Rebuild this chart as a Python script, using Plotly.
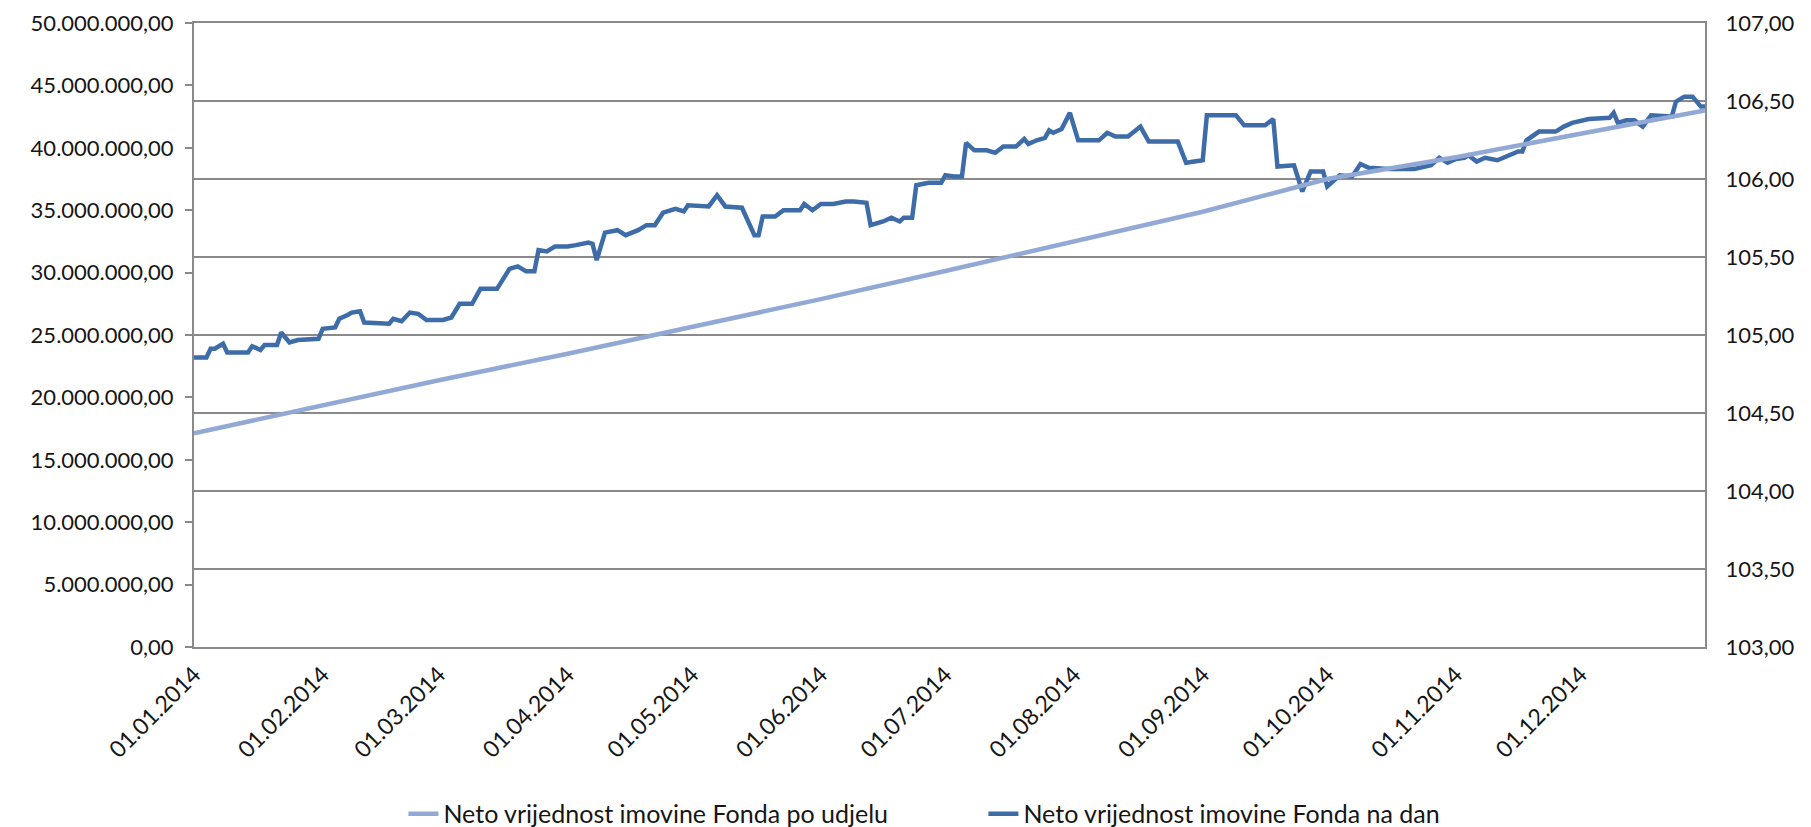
import plotly.graph_objects as go

# ---- data -----------------------------------------------------------------
unit_dates = ["2014-01-01", "2014-02-01", "2014-03-01", "2014-04-01", "2014-05-01",
              "2014-06-01", "2014-07-01", "2014-08-01", "2014-09-01", "2014-10-01",
              "2014-11-01", "2014-12-01", "2014-12-31"]
unit_values = [104.37, 104.55, 104.71, 104.88, 105.05, 105.23, 105.41, 105.60,
               105.79, 106.00, 106.14, 106.29, 106.44]

nav_dates = [
    "2014-01-01", "2014-01-04", "2014-01-05", "2014-01-06", "2014-01-08", "2014-01-09",
    "2014-01-14", "2014-01-15", "2014-01-17", "2014-01-18", "2014-01-21", "2014-01-22",
    "2014-01-24", "2014-01-26", "2014-01-31", "2014-02-01", "2014-02-04", "2014-02-05",
    "2014-02-07", "2014-02-08", "2014-02-10", "2014-02-11", "2014-02-17", "2014-02-18",
    "2014-02-20", "2014-02-22", "2014-02-24", "2014-02-26", "2014-03-02", "2014-03-04",
    "2014-03-06", "2014-03-09", "2014-03-11", "2014-03-15", "2014-03-18", "2014-03-20",
    "2014-03-22", "2014-03-24", "2014-03-25", "2014-03-27", "2014-03-29", "2014-04-01",
    "2014-04-03", "2014-04-06", "2014-04-07", "2014-04-08", "2014-04-10", "2014-04-13",
    "2014-04-15", "2014-04-18", "2014-04-20", "2014-04-22", "2014-04-24", "2014-04-27",
    "2014-04-29", "2014-04-30", "2014-05-05", "2014-05-07", "2014-05-09", "2014-05-13",
    "2014-05-16", "2014-05-17", "2014-05-18", "2014-05-21", "2014-05-23", "2014-05-27",
    "2014-05-28", "2014-05-30", "2014-06-01", "2014-06-04", "2014-06-07", "2014-06-09",
    "2014-06-12", "2014-06-13", "2014-06-16", "2014-06-18", "2014-06-20", "2014-06-21",
    "2014-06-23", "2014-06-24", "2014-06-27", "2014-06-30", "2014-07-01", "2014-07-03",
    "2014-07-05", "2014-07-06", "2014-07-08", "2014-07-11", "2014-07-13", "2014-07-15",
    "2014-07-18", "2014-07-20", "2014-07-21", "2014-07-23", "2014-07-25", "2014-07-26",
    "2014-07-27", "2014-07-28", "2014-07-29", "2014-07-31", "2014-08-02", "2014-08-07",
    "2014-08-09", "2014-08-11", "2014-08-14", "2014-08-17", "2014-08-19", "2014-08-26",
    "2014-08-28", "2014-09-01", "2014-09-02", "2014-09-09", "2014-09-11", "2014-09-16",
    "2014-09-18", "2014-09-19", "2014-09-23", "2014-09-25", "2014-09-27", "2014-09-30",
    "2014-10-01", "2014-10-04", "2014-10-07", "2014-10-09", "2014-10-11", "2014-10-16",
    "2014-10-22", "2014-10-26", "2014-10-28", "2014-10-30", "2014-11-01", "2014-11-03",
    "2014-11-04", "2014-11-06", "2014-11-08", "2014-11-11", "2014-11-14", "2014-11-16",
    "2014-11-17", "2014-11-18", "2014-11-21", "2014-11-25", "2014-11-27", "2014-11-29",
    "2014-12-03", "2014-12-08", "2014-12-09", "2014-12-10", "2014-12-12", "2014-12-14",
    "2014-12-16", "2014-12-18", "2014-12-23", "2014-12-24", "2014-12-26", "2014-12-28",
    "2014-12-30", "2014-12-31",
]
nav_millions = [
    23.2, 23.2, 23.9, 23.9, 24.3, 23.6,
    23.6, 24.1, 23.8, 24.2, 24.2, 25.2,
    24.4, 24.6, 24.7, 25.5, 25.6, 26.3,
    26.6, 26.8, 26.9, 26.0, 25.9, 26.3,
    26.1, 26.8, 26.7, 26.2, 26.2, 26.4,
    27.5, 27.5, 28.7, 28.7, 30.3, 30.5,
    30.1, 30.1, 31.8, 31.7, 32.1, 32.1,
    32.2, 32.4, 32.3, 31.0, 33.2, 33.4,
    33.0, 33.4, 33.8, 33.8, 34.8, 35.1,
    34.9, 35.4, 35.3, 36.2, 35.3, 35.2,
    33.0, 33.0, 34.5, 34.5, 35.0, 35.0,
    35.5, 35.0, 35.5, 35.5, 35.7, 35.7,
    35.6, 33.8, 34.1, 34.4, 34.1, 34.4,
    34.4, 37.0, 37.2, 37.2, 37.8, 37.7,
    37.7, 40.4, 39.8, 39.8, 39.6, 40.1,
    40.1, 40.7, 40.3, 40.6, 40.8, 41.4,
    41.2, 41.4, 41.5, 42.8, 40.6, 40.6,
    41.2, 40.9, 40.9, 41.7, 40.5, 40.5,
    38.8, 39.0, 42.6, 42.6, 41.8, 41.8,
    42.3, 38.5, 38.6, 36.5, 38.1, 38.1,
    36.9, 37.8, 37.7, 38.7, 38.4, 38.3,
    38.3, 38.6, 39.2, 38.8, 39.1, 39.2,
    39.4, 38.9, 39.2, 39.0, 39.4, 39.7,
    39.7, 40.6, 41.3, 41.3, 41.7, 42.0,
    42.3, 42.4, 42.8, 42.0, 42.2, 42.2,
    41.7, 42.6, 42.5, 43.7, 44.1, 44.1,
    43.3, 43.3,
]
nav_values = [v * 1e6 for v in nav_millions]

left_range = [0, 50_000_000]
right_range = [103, 107]
x_range = ["2014-01-01", "2014-12-31"]

name_unit = "Neto vrijednost imovine Fonda po udjelu"
name_nav = "Neto vrijednost imovine Fonda na dan"

# ---- styling --------------------------------------------------------------
FONT = "Lato, 'Open Sans', sans-serif"
TXT = "#161616"
GRID = "#8a8a8a"
LIGHT = "#91A9D4"
DARK = "#3D6CA8"

fig = go.Figure()
fig.add_trace(go.Scatter(x=unit_dates, y=unit_values, name=name_unit, mode="lines",
                         line=dict(color=LIGHT, width=4.5), yaxis="y2"))
fig.add_trace(go.Scatter(x=nav_dates, y=nav_values, name=name_nav, mode="lines",
                         line=dict(color=DARK, width=4.5), yaxis="y"))

# the page body adds an 8 px offset, so the figure is 8 px smaller each way
fig.update_layout(
    width=1803, height=819,
    margin=dict(l=186, r=106, t=15, b=180, autoexpand=False),
    paper_bgcolor="white", plot_bgcolor="white",
    separators=",.",
    font=dict(family=FONT, size=22, color=TXT),
    showlegend=True,
    legend=dict(orientation="h", xref="container", yref="container",
                x=0.541, xanchor="center", y=0.0159, yanchor="middle",
                font=dict(size=25, color=TXT), entrywidth=535, entrywidthmode="pixels",
                traceorder="normal"),
    xaxis=dict(type="date", range=x_range, tickmode="linear", tick0="2014-01-01",
               dtick="M1", tickformat="%d.%m.%Y", tickangle=-45, showgrid=False,
               showline=True, linecolor=GRID, linewidth=2, mirror=True,
               ticks="", ticklabelstandoff=3, zeroline=False, automargin=False,
               tickfont=dict(size=23)),
    yaxis=dict(range=left_range, dtick=5_000_000, tickformat=",.2f", showgrid=False,
               showline=True, linecolor=GRID, linewidth=2, ticks="outside",
               ticklen=7, tickcolor=GRID, tickwidth=2, zeroline=False,
               ticklabelstandoff=7, automargin=False),
    yaxis2=dict(range=right_range, dtick=0.5, tickformat=".2f", overlaying="y",
                side="right", showgrid=True, gridcolor=GRID, gridwidth=2,
                showline=True, linecolor=GRID, linewidth=2, ticks="",
                zeroline=False, ticklabelstandoff=14, automargin=False),
)

fig.write_html("out.html")
